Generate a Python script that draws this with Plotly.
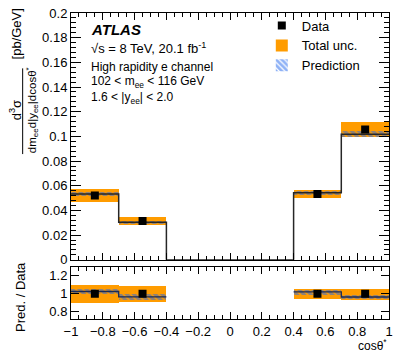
import plotly.graph_objects as go

# bin edges of cos(theta*) (empty region -0.4..0.4)
edges = [-1.0, -0.7, -0.4, 0.4, 0.7, 1.0]
bin_lo = [-1.0, -0.7, 0.4, 0.7]
bin_hi = [-0.7, -0.4, 0.7, 1.0]

data_val = [0.0520, 0.0315, 0.0533, 0.1056]
data_err = [0.0008, 0.0006, 0.0008, 0.0012]
tot_lo = [0.0467, 0.0286, 0.0504, 0.0992]
tot_hi = [0.0573, 0.0343, 0.0565, 0.1118]
pred_val = [0.0533, 0.0304, 0.0544, 0.1018]
pred_err = [0.0015, 0.0011, 0.0015, 0.0022]

_FONT = "Liberation Sans, Arial, Helvetica, sans-serif"
ORANGE = "#ff9c00"
BLUE = "#1f66ee"

centers = [(a + b) / 2 for a, b in zip(bin_lo, bin_hi)]
widths = [b - a for a, b in zip(bin_lo, bin_hi)]
hatch = dict(shape="\\", fgcolor=BLUE, size=5, solidity=0.7, bgcolor="rgba(0,0,0,0)")

fig = go.Figure()

# ---- main panel ----
fig.add_trace(go.Bar(x=centers, base=tot_lo, y=[h - l for l, h in zip(tot_lo, tot_hi)],
                     width=widths, marker=dict(color=ORANGE, line=dict(width=0)),
                     name="Total unc.", xaxis="x", yaxis="y", legendrank=2))
fig.add_trace(go.Bar(x=centers, base=[p - e for p, e in zip(pred_val, pred_err)],
                     y=[2 * e for e in pred_err], width=widths,
                     marker=dict(color="rgba(0,0,0,0)", line=dict(width=0), pattern=hatch),
                     name="Prediction", xaxis="x", yaxis="y", legendrank=3))
# histogram step line including the empty central bin
step_y = [pred_val[0], pred_val[1], 0.0, pred_val[2], pred_val[3], pred_val[3]]
fig.add_trace(go.Scatter(x=edges, y=step_y, mode="lines", line=dict(color="#262626", width=1.5, shape="hv"),
                         showlegend=False, xaxis="x", yaxis="y", hoverinfo="skip"))
fig.add_trace(go.Scatter(x=centers, y=data_val, mode="markers",
                         marker=dict(symbol="square", size=8, color="black"),
                         error_y=dict(type="data", array=data_err, color="black", thickness=1.5, width=0),
                         name="Data", xaxis="x", yaxis="y", legendrank=1))

# ---- ratio panel ----
r_lo = [l / d for l, d in zip(tot_lo, data_val)]
r_hi = [h / d for h, d in zip(tot_hi, data_val)]
r_pred = [p / d for p, d in zip(pred_val, data_val)]
r_perr = [e / d for e, d in zip(pred_err, data_val)]
r_data = [d / d for d in data_val]
r_derr = [e / d for e, d in zip(data_err, data_val)]

fig.add_trace(go.Bar(x=centers, base=r_lo, y=[h - l for l, h in zip(r_lo, r_hi)], width=widths,
                     marker=dict(color=ORANGE, line=dict(width=0)), showlegend=False,
                     xaxis="x2", yaxis="y2"))
fig.add_trace(go.Bar(x=centers, base=[p - e for p, e in zip(r_pred, r_perr)],
                     y=[2 * e for e in r_perr], width=widths,
                     marker=dict(color="rgba(0,0,0,0)", line=dict(width=0), pattern=hatch),
                     showlegend=False, xaxis="x2", yaxis="y2"))
rx, ry = [], []
for a, b, r in zip(bin_lo, bin_hi, r_pred):
    if rx and rx[-1] != a:
        rx.append(None)
        ry.append(None)
    rx += [a, b]
    ry += [r, r]
fig.add_trace(go.Scatter(x=rx, y=ry, mode="lines", line=dict(color="#1a2a55", width=1.3),
                         showlegend=False, xaxis="x2", yaxis="y2", hoverinfo="skip"))
fig.add_trace(go.Scatter(x=centers, y=r_data, mode="markers",
                         marker=dict(symbol="square", size=8, color="black"),
                         error_y=dict(type="data", array=r_derr, color="black", thickness=1.5, width=0),
                         showlegend=False, xaxis="x2", yaxis="y2"))

ax_common = dict(showline=True, linecolor="black", linewidth=1, mirror="ticks", ticks="inside",
                 tickcolor="black", showgrid=False, zeroline=False,
                 tickfont=dict(size=13, color="black"))

fig.update_layout(
    width=399, height=353,
    margin=dict(l=71, r=6, t=9, b=34),
    font=dict(family=_FONT, size=13, color="black"),
    plot_bgcolor="white", paper_bgcolor="white",
    barmode="overlay", bargap=0,
    showlegend=True,
    legend=dict(x=0.6, y=1.008, xanchor="left", yanchor="top", bgcolor="rgba(0,0,0,0)",
                font=dict(size=13), itemwidth=30, tracegroupgap=0),
    xaxis=dict(ax_common, range=[-1, 1], domain=[0, 1], anchor="y", showticklabels=False,
               dtick=0.2, ticklen=7, minor=dict(dtick=0.05, ticklen=4, ticks="inside", tickcolor="black")),
    yaxis=dict(ax_common, range=[0, 0.2], domain=[0.1935, 1], anchor="x",
               dtick=0.02, ticklen=10, tickformat="~g",
               minor=dict(dtick=0.004, ticklen=5, ticks="inside", tickcolor="black")),
    xaxis2=dict(ax_common, range=[-1, 1], domain=[0, 1], anchor="y2", dtick=0.2, ticklen=7,
                tickformat="~g", minor=dict(dtick=0.05, ticklen=4, ticks="inside", tickcolor="black")),
    yaxis2=dict(ax_common, range=[0.72, 1.3], domain=[0, 0.171], anchor="x2",
                tickvals=[0.8, 1.0, 1.2], ticktext=["0.8", "1", "1.2"], ticklen=8),
)

ann = dict(xref="paper", yref="paper", showarrow=False)
fig.add_annotation(ann, x=0.058, y=0.945, xanchor="left", yanchor="middle",
                   text="<b><i>ATLAS</i></b>", font=dict(size=15, family=_FONT, color="black"))
fig.add_annotation(ann, x=0.058, y=0.885, xanchor="left", yanchor="middle",
                   text="√s = 8 TeV, 20.1 fb<sup>-1</sup>", font=dict(size=13, family=_FONT, color="black"))
fig.add_annotation(ann, x=0.058, y=0.825, xanchor="left", yanchor="middle",
                   text="High rapidity e channel", font=dict(size=12, family=_FONT, color="black"))
fig.add_annotation(ann, x=0.058, y=0.775, xanchor="left", yanchor="middle",
                   text="102 < m<sub>ee</sub> < 116 GeV", font=dict(size=12, family=_FONT, color="black"))
fig.add_annotation(ann, x=0.058, y=0.722, xanchor="left", yanchor="middle",
                   text="1.6 < |y<sub>ee</sub>| < 2.0", font=dict(size=12, family=_FONT, color="black"))

# y-axis title of the main panel, built as a fraction
rot = dict(ann, textangle=-90, xanchor="center", yanchor="middle")
fig.add_annotation(rot, x=-0.177, y=0.681,
                   text="d<sup>3</sup>σ", font=dict(size=13, family=_FONT, color="black"))
fig.add_shape(type="line", xref="paper", yref="paper", x0=-0.152, x1=-0.152, y0=0.539, y1=0.819,
              line=dict(color="black", width=1))
fig.add_annotation(rot, x=-0.124, y=0.681,
                   text="dm<sub>ee</sub>d|y<sub>ee</sub>|dcosθ<sup>*</sup>",
                   font=dict(size=11.5, family=_FONT, color="black"))
fig.add_annotation(rot, x=-0.171, y=0.932,
                   text="[pb/GeV]", font=dict(size=13, family=_FONT, color="black"))
fig.add_annotation(rot, x=-0.158, y=0.071,
                   text="Pred. / Data", font=dict(size=13, family=_FONT, color="black"))
fig.add_annotation(ann, x=1.0, y=-0.084, xanchor="right", yanchor="middle",
                   text="cosθ<sup>*</sup>", font=dict(size=12, family=_FONT, color="black"))

fig.write_html("out.html", config={"displayModeBar": False},
               post_script="document.body.style.margin='0';")
